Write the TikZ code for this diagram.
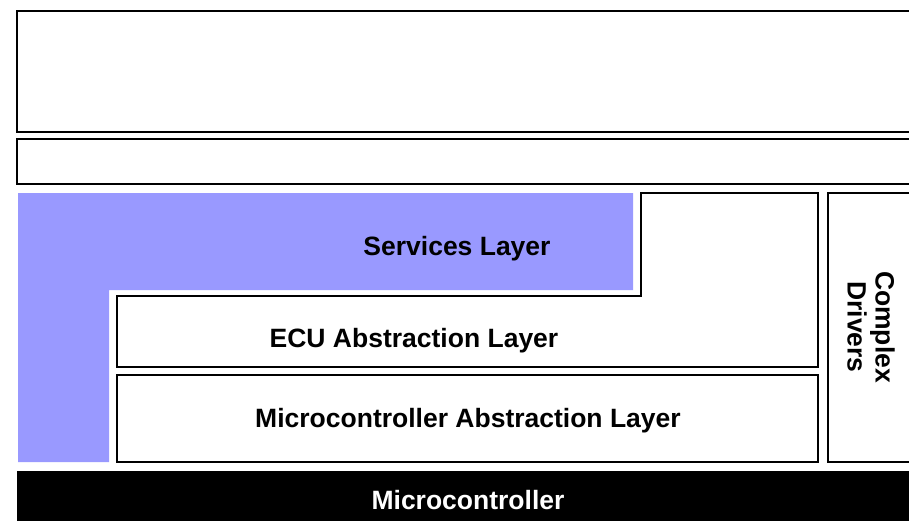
\documentclass[tikz,border=0pt]{standalone}
\usepackage{fontspec}
\setmainfont{Liberation Sans}
\begin{document}
\begin{tikzpicture}[x=1pt,y=-1pt,
  box/.style={draw=black,line width=1.6pt,fill=white},
  lbl/.style={font=\fontsize{26.5}{28}\selectfont\bfseries,text=black,inner sep=0pt}]
\useasboundingbox (0,0) rectangle (909,520);
\clip (0,0) rectangle (909,520);
\definecolor{svc}{HTML}{9999FF}
% top boxes
\draw[box] (17,11) rectangle (930,132);
\draw[box] (17,139) rectangle (930,184);
% services L-shape
\fill[svc] (18,193) -- (633,193) -- (633,290) -- (109,290) -- (109,462) -- (18,462) -- cycle;
\node[lbl] (svc) at (457,249) {Services Layer};
% ECU stepped box
\draw[box] (117,296) -- (641,296) -- (641,193) -- (818,193) -- (818,367) -- (117,367) -- cycle;
\node[lbl] (ecu) at (414,341) {ECU Abstraction Layer};
% MCAL
\draw[box] (117,375) rectangle (818,462);
\node[lbl] (mcal) at (468,421) {Microcontroller Abstraction Layer};
% complex drivers
\draw[box] (828,193) rectangle (930,462);
\node[lbl,rotate=-90,align=center] (cdd) at (871,327) {Complex\\Drivers};
% microcontroller
\fill[black] (17,471) rectangle (930,530);
\node[lbl,text=white] (mc) at (468,500) {Microcontroller};
\end{tikzpicture}
\end{document}
